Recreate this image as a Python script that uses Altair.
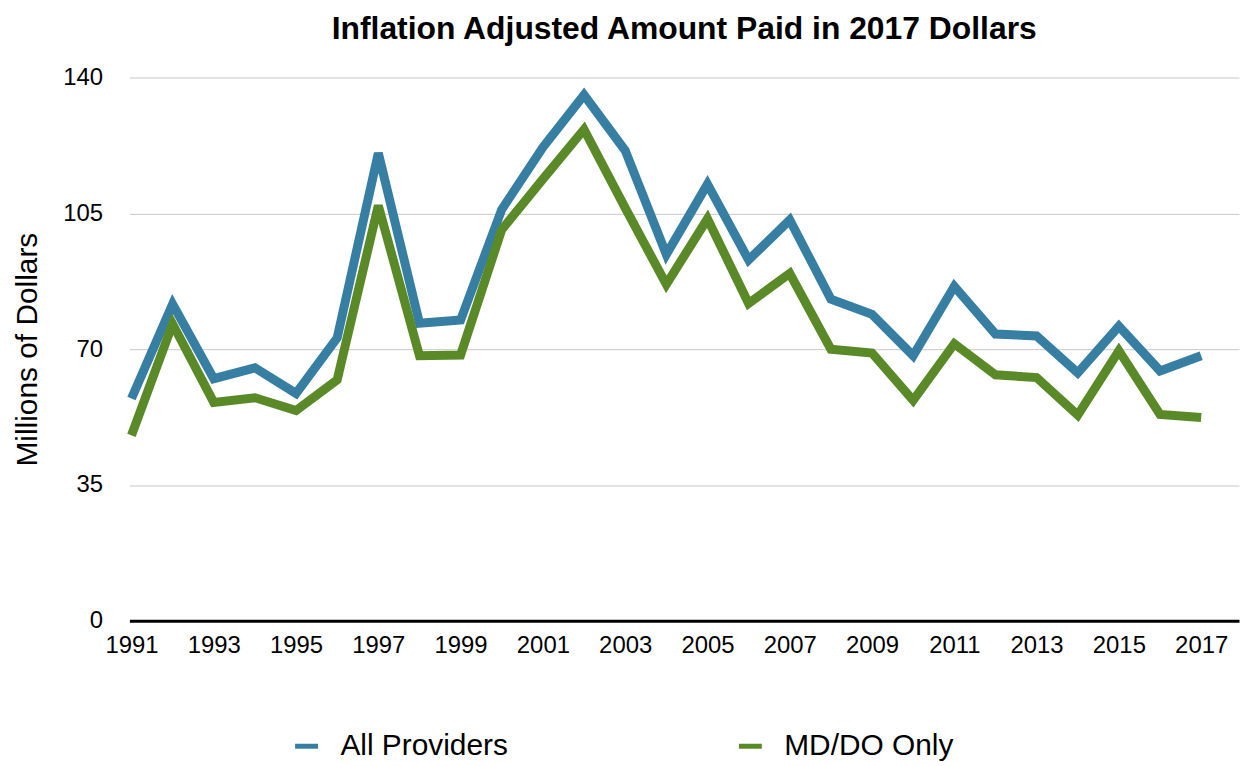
import altair as alt
import pandas as pd

years = list(range(1991, 2018))
all_providers = [57.3, 81.6, 62.4, 65.2, 58.6, 72.9, 120.5, 76.7, 77.5, 106.0,
                 122.0, 135.5, 121.2, 94.4, 112.5, 93.0, 103.3, 82.9, 79.0, 68.3,
                 86.2, 73.9, 73.4, 63.9, 75.9, 64.4, 68.3]
md_do_only = [47.8, 76.5, 56.3, 57.5, 54.2, 62.1, 107.0, 68.3, 68.5, 100.8,
              113.8, 126.6, 106.4, 86.7, 103.6, 81.8, 89.5, 70.0, 69.0, 56.8,
              71.4, 63.4, 62.7, 53.0, 69.6, 53.2, 52.4]
series_names = ["All Providers", "MD/DO Only"]
series_colors = ["#377ea3", "#5a8a28"]
x_ticks = list(range(1991, 2018, 2))
y_ticks = [0, 35, 70, 105, 140]

rows = []
for i, y in enumerate(years):
    rows.append({"year": y, "value": all_providers[i], "series": series_names[0]})
    rows.append({"year": y, "value": md_do_only[i], "series": series_names[1]})
df = pd.DataFrame(rows)

FONT = "Liberation Sans"

chart = alt.Chart(df).mark_line(strokeWidth=9, strokeJoin="miter", strokeCap="butt").encode(
    x=alt.X("year:Q",
            scale=alt.Scale(domain=[1990.95, 2017.92], nice=False, zero=False),
            axis=alt.Axis(values=x_ticks, format="d", title=None, grid=False,
                          ticks=False, domain=True, domainColor="#000000",
                          domainWidth=3, labelFontSize=24, labelFont=FONT,
                          labelColor="#000000", labelPadding=13,
                          labelFlush=False, labelOverlap=False)),
    y=alt.Y("value:Q",
            scale=alt.Scale(domain=[0, 140], nice=False),
            axis=alt.Axis(values=y_ticks, title="Millions of Dollars",
                          grid=True, gridColor="#c8c8c8", gridWidth=1,
                          ticks=False, domain=False, labelFontSize=24,
                          labelFont=FONT, labelColor="#000000", labelPadding=27,
                          titleFont=FONT, titleFontSize=30, titleFontWeight="normal",
                          titleColor="#000000", titleAngle=270, titleX=-93,
                          titleY=273, titleAlign="center",
                          titleBaseline="alphabetic")),
    color=alt.Color("series:N",
                    scale=alt.Scale(domain=series_names, range=series_colors),
                    legend=alt.Legend(title=None, orient="none", direction="horizontal",
                                      legendX=163, legendY=657, padding=0,
                                      symbolType="stroke", symbolSize=529,
                                      symbolStrokeWidth=5, labelFontSize=30,
                                      labelFont=FONT, labelColor="#000000",
                                      labelLimit=400,
                                      labelOffset=19, columnPadding=221)),
).properties(
    width=1115,
    height=546,
    title=alt.TitleParams("Inflation Adjusted Amount Paid in 2017 Dollars",
                          font=FONT, fontSize=32, fontWeight="bold",
                          color="#000000", anchor="middle", frame="group",
                          offset=20),
    autosize=alt.AutoSizeParams(type="none"),
    padding={"left": 122, "top": 68, "right": 3, "bottom": 140},
).configure_view(stroke=None)

chart.save("out.html", embed_options={"renderer": "svg", "actions": False})
